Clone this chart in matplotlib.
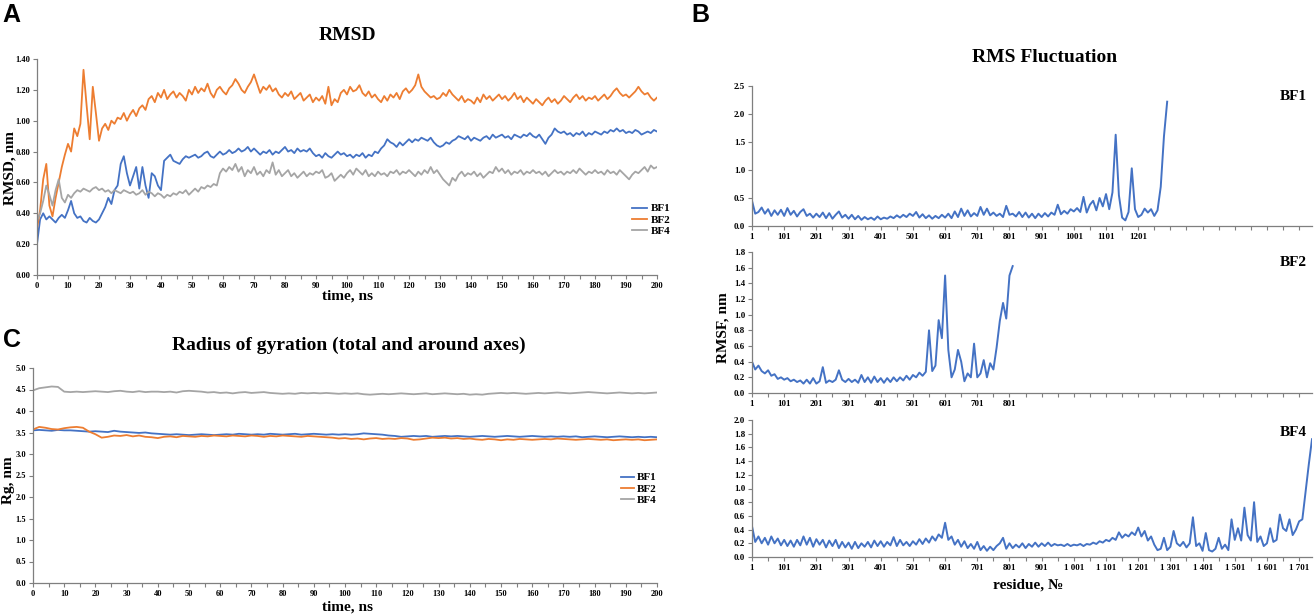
import numpy as np
import matplotlib
matplotlib.use("Agg")
import matplotlib.pyplot as plt
from matplotlib.ticker import MultipleLocator, FixedLocator, FormatStrFormatter

# ---------------- data ----------------
# Panel A: RMSD, nm vs time (ns), one value per ns, 0..200
time_ns = list(range(0, 201))
rmsd_bf1 = [
    0.20, 0.36, 0.40, 0.36, 0.38, 0.36, 0.34, 0.37, 0.39, 0.37,
    0.42, 0.48, 0.40, 0.37, 0.38, 0.35, 0.34, 0.37, 0.35, 0.34,
    0.36, 0.40, 0.44, 0.50, 0.46, 0.55, 0.58, 0.72, 0.77, 0.66,
    0.58, 0.64, 0.70, 0.56, 0.70, 0.58, 0.50, 0.66, 0.64, 0.58,
    0.55, 0.74, 0.76, 0.78, 0.74, 0.73, 0.72, 0.75, 0.77, 0.76,
    0.77, 0.78, 0.76, 0.77, 0.79, 0.80, 0.77, 0.76, 0.78, 0.80,
    0.78, 0.79, 0.81, 0.79, 0.80, 0.82, 0.80, 0.81, 0.83, 0.80,
    0.82, 0.80, 0.78, 0.80, 0.79, 0.81, 0.78, 0.80, 0.79, 0.81,
    0.83, 0.80, 0.81, 0.79, 0.82, 0.80, 0.81, 0.80, 0.82, 0.79,
    0.77, 0.78, 0.76, 0.79, 0.77, 0.76, 0.78, 0.80, 0.78, 0.79,
    0.77, 0.78, 0.76, 0.78, 0.77, 0.79, 0.76, 0.78, 0.77, 0.80,
    0.79, 0.82, 0.84, 0.88, 0.86, 0.85, 0.83, 0.86, 0.84, 0.86,
    0.88, 0.86, 0.88, 0.87, 0.89, 0.88, 0.87, 0.89, 0.86, 0.84,
    0.83, 0.84, 0.86, 0.85, 0.87, 0.88, 0.90, 0.89, 0.88, 0.90,
    0.87, 0.89, 0.88, 0.87, 0.89, 0.90, 0.88, 0.91, 0.89, 0.90,
    0.91, 0.89, 0.90, 0.88, 0.91, 0.90, 0.89, 0.91, 0.90, 0.92,
    0.90, 0.89, 0.91, 0.88, 0.85, 0.89, 0.91, 0.95, 0.93, 0.92,
    0.93, 0.91, 0.92, 0.90, 0.92, 0.91, 0.93, 0.90, 0.92, 0.91,
    0.93, 0.92, 0.91, 0.93, 0.92, 0.94, 0.93, 0.95, 0.93, 0.94,
    0.92, 0.93, 0.92, 0.94, 0.93, 0.91, 0.92, 0.93, 0.92, 0.94,
    0.93,
]
rmsd_bf2 = [
    0.30, 0.42, 0.62, 0.72, 0.45, 0.38, 0.50, 0.60, 0.70, 0.78,
    0.85, 0.80, 0.95, 0.90, 0.98, 1.33, 1.10, 0.88, 1.22, 1.05,
    0.87, 0.95, 0.98, 0.94, 1.00, 0.98, 1.02, 1.01, 1.05, 1.00,
    1.04, 1.07, 1.03, 1.08, 1.10, 1.07, 1.14, 1.16, 1.12, 1.18,
    1.15, 1.20, 1.14, 1.17, 1.19, 1.15, 1.18, 1.16, 1.13, 1.20,
    1.17, 1.22, 1.18, 1.21, 1.19, 1.24, 1.18, 1.15, 1.20, 1.22,
    1.19, 1.17, 1.21, 1.23, 1.27, 1.24, 1.20, 1.18, 1.22, 1.25,
    1.30, 1.24, 1.18, 1.22, 1.20, 1.23, 1.19, 1.21, 1.17, 1.15,
    1.18, 1.16, 1.19, 1.14, 1.16, 1.18, 1.13, 1.15, 1.17, 1.12,
    1.15, 1.13, 1.16, 1.11, 1.22, 1.10, 1.14, 1.12, 1.18, 1.20,
    1.17, 1.22, 1.19, 1.20, 1.23, 1.18, 1.16, 1.19, 1.15, 1.17,
    1.14, 1.12, 1.16, 1.13, 1.17, 1.15, 1.18, 1.14, 1.19, 1.21,
    1.18, 1.20, 1.23, 1.30, 1.22, 1.19, 1.17, 1.15, 1.16, 1.14,
    1.15, 1.18, 1.16, 1.20, 1.17, 1.15, 1.13, 1.16, 1.12, 1.14,
    1.13, 1.11, 1.15, 1.12, 1.17, 1.14, 1.16, 1.13, 1.15, 1.17,
    1.14, 1.16, 1.13, 1.15, 1.18, 1.14, 1.16, 1.12, 1.15, 1.13,
    1.11, 1.14, 1.12, 1.10, 1.13, 1.15, 1.12, 1.14, 1.11, 1.13,
    1.16, 1.14, 1.12, 1.15, 1.17, 1.14, 1.16, 1.13, 1.15, 1.14,
    1.16, 1.13, 1.15, 1.17, 1.14, 1.16, 1.19, 1.21, 1.18, 1.16,
    1.17, 1.15, 1.17, 1.19, 1.22, 1.19, 1.17, 1.18, 1.15, 1.13,
    1.15,
]
rmsd_bf4 = [
    0.35, 0.40, 0.48, 0.58, 0.52, 0.45, 0.55, 0.62, 0.50, 0.47,
    0.52, 0.50, 0.53, 0.55, 0.54, 0.56, 0.55, 0.54, 0.56, 0.57,
    0.55, 0.56, 0.54, 0.55, 0.53, 0.55, 0.54, 0.53, 0.55, 0.54,
    0.53, 0.54, 0.52, 0.53, 0.55, 0.52, 0.54, 0.53, 0.51, 0.53,
    0.52, 0.50, 0.52, 0.51, 0.53, 0.52, 0.54, 0.53, 0.55, 0.52,
    0.54, 0.56, 0.54, 0.57, 0.56, 0.58, 0.57, 0.59, 0.58, 0.66,
    0.69, 0.67, 0.70, 0.68, 0.72, 0.67, 0.70, 0.64, 0.68, 0.66,
    0.70, 0.65, 0.67, 0.64, 0.68, 0.66, 0.73, 0.65, 0.68, 0.64,
    0.66, 0.68, 0.64, 0.66, 0.63, 0.65, 0.67, 0.64, 0.66, 0.65,
    0.67, 0.66, 0.68, 0.63, 0.64, 0.66, 0.61, 0.63, 0.65, 0.63,
    0.66, 0.68, 0.65, 0.69, 0.67, 0.65, 0.68, 0.64, 0.66, 0.64,
    0.67, 0.65, 0.66, 0.64, 0.67, 0.66, 0.68, 0.65, 0.67, 0.66,
    0.68, 0.66, 0.64, 0.67, 0.65, 0.68, 0.66, 0.70, 0.66, 0.68,
    0.65, 0.62, 0.60, 0.58, 0.63, 0.61, 0.65, 0.67, 0.64, 0.66,
    0.65, 0.67, 0.64, 0.66, 0.63, 0.65, 0.67, 0.66, 0.70, 0.67,
    0.69, 0.66, 0.68, 0.65, 0.67, 0.66, 0.68, 0.65, 0.67, 0.66,
    0.68, 0.66, 0.67, 0.65, 0.67, 0.64, 0.66, 0.68, 0.66, 0.67,
    0.65, 0.67, 0.66, 0.68, 0.66, 0.69, 0.67, 0.65, 0.67, 0.66,
    0.68, 0.66, 0.67, 0.65, 0.68, 0.66, 0.67, 0.65, 0.68, 0.66,
    0.64, 0.62, 0.65, 0.67, 0.66, 0.68, 0.70, 0.67, 0.71, 0.69,
    0.70,
]

# Panel C: radius of gyration, nm, every 2 ns, 0..200
time_rg = list(range(0, 201, 2))
rg_bf1 = [
    3.55, 3.56, 3.55, 3.54, 3.56, 3.55, 3.55, 3.54, 3.53, 3.52, 3.53,
    3.52, 3.51, 3.54, 3.52, 3.51, 3.50, 3.49, 3.50, 3.48, 3.47,
    3.46, 3.45, 3.46, 3.45, 3.44, 3.45, 3.46, 3.45, 3.44, 3.45,
    3.46, 3.45, 3.47, 3.46, 3.45, 3.46, 3.45, 3.47, 3.46, 3.45,
    3.46, 3.47, 3.45, 3.46, 3.47, 3.46, 3.45, 3.46, 3.45, 3.46,
    3.45, 3.46, 3.48, 3.47, 3.46, 3.45, 3.43, 3.42, 3.40, 3.41,
    3.42, 3.41, 3.42, 3.40, 3.41, 3.42, 3.41, 3.42, 3.41, 3.40,
    3.41, 3.42, 3.41, 3.40, 3.41, 3.42, 3.41, 3.40, 3.41, 3.42,
    3.41, 3.40, 3.41, 3.40, 3.41, 3.40, 3.41, 3.39, 3.40, 3.41,
    3.40, 3.39, 3.40, 3.41, 3.40, 3.39, 3.40, 3.39, 3.40, 3.39,
]
rg_bf2 = [
    3.57, 3.63, 3.61, 3.58, 3.57, 3.60, 3.62, 3.63, 3.61, 3.52, 3.46,
    3.38, 3.40, 3.43, 3.42, 3.44, 3.41, 3.43, 3.40, 3.39, 3.37,
    3.40, 3.41, 3.39, 3.42, 3.41, 3.40, 3.42, 3.41, 3.43, 3.42,
    3.41, 3.43, 3.42, 3.41, 3.43, 3.42, 3.40, 3.42, 3.41, 3.43,
    3.42, 3.41, 3.40, 3.42, 3.41, 3.40, 3.39, 3.38, 3.36, 3.37,
    3.35, 3.36, 3.34, 3.36, 3.37, 3.35, 3.36, 3.35, 3.37, 3.36,
    3.33, 3.34, 3.36, 3.38, 3.37, 3.38, 3.36, 3.37, 3.35, 3.36,
    3.34, 3.33, 3.35, 3.34, 3.32, 3.34, 3.33, 3.35, 3.34, 3.33,
    3.34, 3.35, 3.34, 3.36, 3.35, 3.34, 3.33, 3.34, 3.35, 3.34,
    3.33, 3.34, 3.32, 3.33, 3.34, 3.33, 3.34, 3.32, 3.33, 3.34,
]
rg_bf4 = [
    4.48, 4.53, 4.55, 4.57, 4.56, 4.45, 4.44, 4.45, 4.44, 4.45, 4.46,
    4.45, 4.44, 4.46, 4.47, 4.45, 4.44, 4.46, 4.44, 4.45, 4.45,
    4.44, 4.45, 4.43, 4.46, 4.47, 4.46, 4.45, 4.43, 4.44, 4.42,
    4.43, 4.41, 4.43, 4.44, 4.42, 4.43, 4.44, 4.42, 4.41, 4.40,
    4.41, 4.40, 4.42, 4.41, 4.42, 4.41, 4.42, 4.41, 4.40, 4.41,
    4.40, 4.41, 4.39, 4.38, 4.39, 4.40, 4.39, 4.40, 4.41, 4.40,
    4.39, 4.40, 4.41, 4.39, 4.40, 4.41, 4.40, 4.39, 4.40, 4.38,
    4.39, 4.38, 4.40, 4.41, 4.42, 4.41, 4.42, 4.41, 4.40, 4.41,
    4.42, 4.41, 4.42, 4.43, 4.42, 4.41, 4.42, 4.43, 4.44, 4.43,
    4.42, 4.41, 4.42, 4.43, 4.42, 4.41, 4.42, 4.41, 4.42, 4.43,
]

# Panel B: RMSF, nm, sampled every 10 residues starting at residue 1
rmsf_bf1 = [
    0.45, 0.22, 0.25, 0.33, 0.22, 0.30, 0.18, 0.28, 0.20, 0.29,
    0.18, 0.32, 0.20, 0.27, 0.17, 0.25, 0.30, 0.18, 0.22, 0.15,
    0.22, 0.16, 0.24, 0.14, 0.23, 0.13, 0.20, 0.26, 0.15, 0.20,
    0.13, 0.20, 0.12, 0.18, 0.11, 0.16, 0.12, 0.15, 0.11, 0.17,
    0.12, 0.15, 0.13, 0.17, 0.14, 0.19, 0.15, 0.20, 0.16, 0.22,
    0.18, 0.25, 0.15, 0.21, 0.14, 0.19, 0.13, 0.18, 0.14, 0.20,
    0.15, 0.22, 0.14, 0.26, 0.16, 0.31, 0.18, 0.28, 0.17, 0.23,
    0.18, 0.34, 0.20, 0.31, 0.19, 0.24, 0.18, 0.22, 0.16, 0.36,
    0.20, 0.22, 0.17, 0.25, 0.16, 0.24, 0.15, 0.22, 0.14, 0.22,
    0.16, 0.23, 0.17, 0.24, 0.20, 0.38, 0.21, 0.27, 0.22, 0.30,
    0.26, 0.32, 0.25, 0.52, 0.24, 0.38, 0.45, 0.28, 0.50, 0.35,
    0.57, 0.30, 0.60, 1.63, 0.55, 0.15, 0.10, 0.25, 1.03, 0.30,
    0.16, 0.20, 0.31, 0.24, 0.30, 0.18, 0.28, 0.70, 1.60, 2.22,
]
rmsf_bf2 = [
    0.40, 0.30, 0.35, 0.28, 0.25, 0.29, 0.22, 0.24, 0.18, 0.20,
    0.17, 0.19, 0.15, 0.17, 0.14, 0.16, 0.12, 0.17, 0.12, 0.19,
    0.12, 0.15, 0.33, 0.13, 0.16, 0.14, 0.17, 0.29, 0.17, 0.14,
    0.18, 0.14, 0.17, 0.13, 0.23, 0.14, 0.20, 0.13, 0.21, 0.14,
    0.19, 0.13, 0.19, 0.14, 0.20, 0.15, 0.20, 0.16, 0.22, 0.17,
    0.23, 0.20, 0.26, 0.22, 0.27, 0.80, 0.28, 0.35, 0.93, 0.70,
    1.50, 0.55, 0.20, 0.30, 0.55, 0.40, 0.15, 0.25, 0.20, 0.63,
    0.20, 0.25, 0.42, 0.20, 0.38, 0.30, 0.58, 0.92, 1.15, 0.95,
    1.50, 1.62,
]
rmsf_bf4 = [
    0.45, 0.22, 0.30, 0.20, 0.28, 0.18, 0.30, 0.20, 0.27, 0.17,
    0.25, 0.16, 0.24, 0.15, 0.25, 0.17, 0.30, 0.18, 0.28, 0.15,
    0.26, 0.18, 0.25, 0.14, 0.24, 0.16, 0.25, 0.13, 0.22, 0.14,
    0.21, 0.12, 0.22, 0.13, 0.20, 0.15, 0.22, 0.14, 0.24, 0.16,
    0.23, 0.15, 0.22, 0.17, 0.29, 0.16, 0.25, 0.17, 0.22, 0.16,
    0.23, 0.18, 0.26, 0.19, 0.27, 0.21, 0.30, 0.24, 0.33, 0.28,
    0.50, 0.25, 0.30, 0.18, 0.25, 0.15, 0.23, 0.13, 0.19, 0.12,
    0.22, 0.10, 0.16, 0.09, 0.15, 0.10, 0.16, 0.20, 0.28, 0.12,
    0.20, 0.13, 0.18, 0.14, 0.20, 0.13, 0.19, 0.15, 0.21, 0.15,
    0.20, 0.16, 0.21, 0.16, 0.19, 0.17, 0.18, 0.16, 0.19, 0.16,
    0.18, 0.17, 0.19, 0.16, 0.19, 0.18, 0.21, 0.19, 0.23, 0.21,
    0.25, 0.23, 0.28, 0.25, 0.36, 0.28, 0.33, 0.30, 0.36, 0.32,
    0.43, 0.30, 0.38, 0.24, 0.30, 0.18, 0.10, 0.12, 0.28, 0.10,
    0.15, 0.38, 0.20, 0.16, 0.22, 0.14, 0.20, 0.58, 0.16, 0.20,
    0.09, 0.35, 0.10, 0.08, 0.12, 0.28, 0.12, 0.18, 0.10, 0.55,
    0.25, 0.42, 0.24, 0.72, 0.32, 0.24, 0.80, 0.22, 0.30, 0.16,
    0.20, 0.42, 0.22, 0.25, 0.62, 0.42, 0.38, 0.55, 0.32, 0.40,
    0.52, 0.55, 0.95, 1.35, 1.72,
]
series_names = ["BF1", "BF2", "BF4"]
colors = ["#4472C4", "#ED7D31", "#A5A5A5"]

# ---------------- figure ----------------
W, H = 1316, 615
fig = plt.figure(figsize=(W / 100, H / 100), dpi=100)
SERIF = "Liberation Serif"
SANS = "Liberation Sans"
AXCOL = "#7f7f7f"


def px_axes(left, top, right, bottom):
    return fig.add_axes([left / W, 1 - bottom / H, (right - left) / W, (bottom - top) / H])


def style(ax, fs=6.5):
    for s in ["top", "right"]:
        ax.spines[s].set_visible(False)
    for s in ["left", "bottom"]:
        ax.spines[s].set_color(AXCOL)
        ax.spines[s].set_linewidth(0.9)
    ax.tick_params(which="both", direction="out", color=AXCOL, width=0.8,
                   labelsize=fs, pad=2)
    ax.tick_params(which="major", length=3)
    ax.tick_params(which="minor", length=3)
    for lab in ax.get_xticklabels() + ax.get_yticklabels():
        lab.set_fontfamily(SERIF)
        lab.set_fontweight("bold")


def ftext(x, y, s, **kw):
    fig.text(x / W, 1 - y / H, s, ha="center", va="center", **kw)


# ---- Panel A: RMSD ----
axA = px_axes(37, 59, 657, 275)
for vals, name, c in zip([rmsd_bf1, rmsd_bf2, rmsd_bf4], series_names, colors):
    axA.plot(time_ns, vals, color=c, lw=1.3, label=name)
axA.set_xlim(0, 200)
axA.set_ylim(0, 1.4)
axA.xaxis.set_major_locator(MultipleLocator(10))
axA.xaxis.set_minor_locator(MultipleLocator(5))
axA.yaxis.set_major_locator(MultipleLocator(0.2))
axA.yaxis.set_major_formatter(FormatStrFormatter("%.2f"))
style(axA, 6)
axA.legend(loc="center left", bbox_to_anchor=(626 / W, 1 - 220 / H),
           bbox_transform=fig.transFigure, frameon=False, handlelength=1.4,
           handletextpad=0.3, labelspacing=0.15, borderpad=0,
           prop={"family": SERIF, "weight": "bold", "size": 8})

ftext(11, 15, "A", fontsize=18, fontweight="bold", family=SANS)
ftext(347, 35, "RMSD", fontsize=14, fontweight="bold", family=SERIF)
ftext(10, 168, "RMSD, nm", fontsize=11, fontweight="bold", family=SERIF, rotation=90)
ftext(347, 296, "time, ns", fontsize=11, fontweight="bold", family=SERIF)

# ---- Panel C: radius of gyration ----
axC = px_axes(33, 368, 657, 583)
for vals, name, c in zip([rg_bf1, rg_bf2, rg_bf4], series_names, colors):
    axC.plot(time_rg, vals, color=c, lw=1.3, label=name)
axC.set_xlim(0, 200)
axC.set_ylim(0, 5)
axC.xaxis.set_major_locator(MultipleLocator(10))
axC.xaxis.set_minor_locator(MultipleLocator(5))
axC.yaxis.set_major_locator(MultipleLocator(0.5))
axC.yaxis.set_major_formatter(FormatStrFormatter("%.1f"))
style(axC, 6)
axC.legend(loc="center left", bbox_to_anchor=(615 / W, 1 - 489 / H),
           bbox_transform=fig.transFigure, frameon=False, handlelength=1.2,
           handletextpad=0.3, labelspacing=0.15, borderpad=0,
           prop={"family": SERIF, "weight": "bold", "size": 8})

ftext(12, 340, "C", fontsize=18, fontweight="bold", family=SANS)
ftext(349, 345, "Radius of gyration (total and around axes)", fontsize=14,
      fontweight="bold", family=SERIF)
ftext(9, 480, "Rg, nm", fontsize=11, fontweight="bold", family=SERIF, rotation=90)
ftext(347, 607, "time, ns", fontsize=11, fontweight="bold", family=SERIF)

# ---- Panel B: RMSF ----
b_axes = [
    (rmsf_bf1, 86, 226, 2.5, 0.5, 1201, 97),
    (rmsf_bf2, 252, 393, 1.8, 0.2, 801, 262),
    (rmsf_bf4, 420, 557, 2.0, 0.2, 1701, 432),
]
for i, (vals, top, bot, ymax, ystep, last_lab, lab_y) in enumerate(b_axes):
    ax = px_axes(752, top, 1312, bot)
    residues = [1 + 10 * k for k in range(len(vals))]
    ax.plot(residues, vals, color=colors[0], lw=1.4)
    ax.set_xlim(1, 1741)
    ax.set_ylim(0, ymax)
    ax.yaxis.set_major_locator(MultipleLocator(ystep))
    ax.yaxis.set_major_formatter(FormatStrFormatter("%.1f"))
    ticks = list(range(1, 1741, 50))
    ax.xaxis.set_major_locator(FixedLocator(ticks))
    labels = []
    for t in ticks:
        if (t - 1) % 100 == 0 and t <= last_lab:
            if i == 2 and t >= 1000:
                labels.append(f"{t // 1000} {t % 1000:03d}")
            else:
                labels.append(str(t))
        else:
            labels.append("")
    ax.set_xticklabels(labels)
    style(ax, 6.5)
    ftext(1293, lab_y, series_names[i], fontsize=11, fontweight="bold", family=SERIF)

ftext(700, 15, "B", fontsize=18, fontweight="bold", family=SANS)
ftext(1045, 58, "RMS Fluctuation", fontsize=14, fontweight="bold", family=SERIF)
ftext(723, 328, "RMSF, nm", fontsize=11, fontweight="bold", family=SERIF, rotation=90)
ftext(1028, 585, "residue, \u2116", fontsize=11, fontweight="bold", family=SERIF)

fig.savefig("out.png", dpi=100)
